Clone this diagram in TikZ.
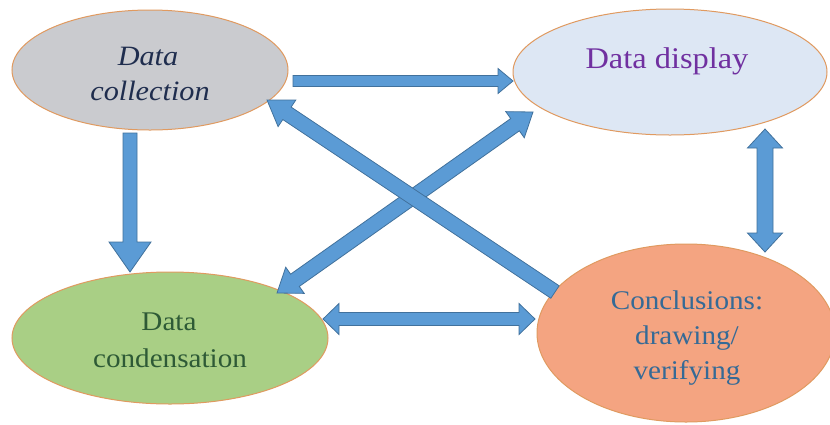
\documentclass[tikz,border=0pt]{standalone}
\usepackage{fontspec}
\setmainfont{Liberation Serif}[FakeStretch=1.08]
\usetikzlibrary{calc,shapes.geometric}
\definecolor{arrowfill}{HTML}{5B9BD5}
\definecolor{arrowline}{HTML}{41719C}
\definecolor{ellline}{HTML}{E09A60}
\definecolor{fillgray}{HTML}{CACBCF}
\definecolor{fillblue}{HTML}{DDE7F4}
\definecolor{fillgreen}{HTML}{A9CF85}
\definecolor{fillsalmon}{HTML}{F4A481}
\definecolor{txtnavy}{HTML}{1F2D4E}
\definecolor{txtpurple}{HTML}{7030A0}
\definecolor{txtgreen}{HTML}{2E5A36}
\definecolor{txtblue}{HTML}{356A96}
\tikzset{
  bubble/.style={ellipse,draw=ellline,line width=1pt,inner sep=0pt},
  blockarrow/.style={fill=arrowfill,draw=arrowline,line width=0.8pt,line join=miter},
  lbl/.style={anchor=base,inner sep=0pt,font=\fontsize{27}{35}\selectfont}
}
% single-headed block arrow: from, to, shaft half width, head half width, head length
\newcommand{\onearrow}[5]{%
  \path (#1) coordinate (tA) (#2) coordinate (tB);
  \coordinate (tH) at ($(tB)!#5!(tA)$);
  \filldraw[blockarrow] ($(tA)!#3!90:(tB)$) -- ($(tH)!#3!90:(tB)$) -- ($(tH)!#4!90:(tB)$) -- (tB)
    -- ($(tH)!#4!-90:(tB)$) -- ($(tH)!#3!-90:(tB)$) -- ($(tA)!#3!-90:(tB)$) -- cycle;
}
% double-headed block arrow
\newcommand{\twoarrow}[5]{%
  \path (#1) coordinate (tA) (#2) coordinate (tB);
  \coordinate (tH) at ($(tB)!#5!(tA)$);
  \coordinate (tG) at ($(tA)!#5!(tB)$);
  \filldraw[blockarrow] (tA) -- ($(tG)!#4!90:(tB)$) -- ($(tG)!#3!90:(tB)$) -- ($(tH)!#3!90:(tB)$)
    -- ($(tH)!#4!90:(tB)$) -- (tB) -- ($(tH)!#4!-90:(tB)$) -- ($(tH)!#3!-90:(tB)$)
    -- ($(tG)!#3!-90:(tB)$) -- ($(tG)!#4!-90:(tB)$) -- cycle;
}
\begin{document}
\begin{tikzpicture}[x=1pt,y=-1pt]
\useasboundingbox[fill=white] (0,0) rectangle (830,424);
% ellipses
\node[bubble,fill=fillgray,minimum width=276pt,minimum height=120pt] (dc) at (150,70) {};
\node[bubble,fill=fillblue,minimum width=314pt,minimum height=126pt] (dd) at (670,72) {};
\node[bubble,fill=fillgreen,minimum width=316pt,minimum height=132pt] (dk) at (170,338) {};
\node[bubble,fill=fillsalmon,minimum width=298pt,minimum height=178pt] (cv) at (686,333) {};
% labels
\node[lbl,text=txtnavy,font=\fontsize{28}{35}\selectfont\itshape] (dc1) at (148,65) {Data};
\node[lbl,text=txtnavy,font=\fontsize{28}{35}\selectfont\itshape] (dc2) at (150,100) {collection};
\node[lbl,text=txtpurple,font=\fontsize{30}{35}\selectfont] (dd1) at (667,68) {Data display};
\node[lbl,text=txtgreen] (dk1) at (169,330) {Data};
\node[lbl,text=txtgreen] (dk2) at (170,367) {condensation};
\node[lbl,text=txtblue] (cv1) at (687,309) {Conclusions:};
\node[lbl,text=txtblue] (cv2) at (687,344) {drawing/};
\node[lbl,text=txtblue] (cv3) at (687,379) {verifying};
% arrow end points
\coordinate (a1s) at (293,81);  \coordinate (a1e) at (513,81);
\coordinate (a2s) at (130,133); \coordinate (a2e) at (130,272);
\coordinate (a3s) at (323,319); \coordinate (a3e) at (535,319);
\coordinate (a4s) at (765,129); \coordinate (a4e) at (765,252);
\coordinate (a5s) at (555,292); \coordinate (a5e) at (267,100);
\coordinate (a6s) at (277,293); \coordinate (a6e) at (533,112);
% arrows
\onearrow{a1s}{a1e}{5.5pt}{12.5pt}{15pt}
\onearrow{a2s}{a2e}{7pt}{21pt}{30pt}
\twoarrow{a3s}{a3e}{6.5pt}{15.5pt}{16pt}
\twoarrow{a4s}{a4e}{8pt}{17.5pt}{19pt}
\twoarrow{a6s}{a6e}{7.5pt}{16pt}{22pt}
\onearrow{a5s}{a5e}{7.5pt}{16pt}{24pt}
\end{tikzpicture}
\end{document}
